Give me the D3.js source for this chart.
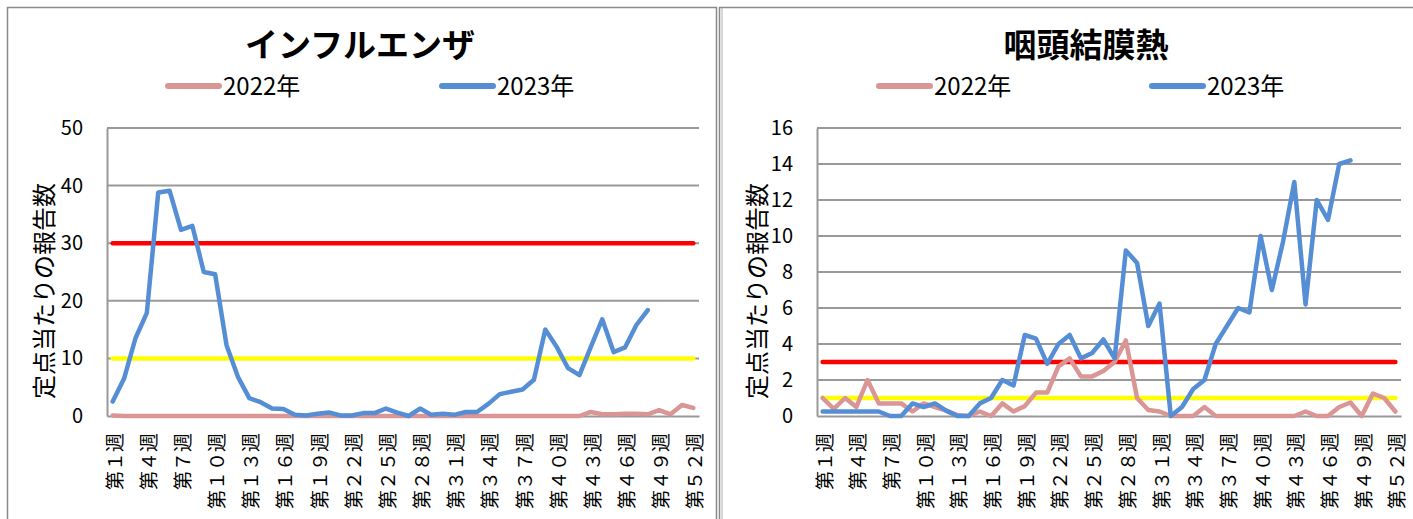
<!DOCTYPE html>
<html><head><meta charset="utf-8">
<script src="https://cdn.jsdelivr.net/npm/d3@7"></script>
<style>body{margin:0;background:#fff;overflow:hidden} svg{display:block}</style>
</head><body><svg id="c" width="1413" height="519"></svg>
<script>
// ---- data ----
const weeks = d3.range(1, 53);
const weekLabels = weeks.map(w => `第${w}週`);
const labeledWeeks = [1,4,7,10,13,16,19,22,25,28,31,34,37,40,43,46,49,52];
const seriesNames = ["2022年", "2023年"];

const flu2022 = [0.1,0,0,0,0,0,0,0,0,0, 0,0,0,0,0,0,0,0,0,0, 0,0,0,0,0,0,0,0,0,0, 0,0,0,0,0,0,0,0,0,0, 0,0,0.7,0.3,0.3,0.4,0.4,0.3,1.0,0.3, 1.9,1.4];
const flu2023 = [2.5,6.5,13.5,17.9,38.8,39.1,32.3,33.0,25.0,24.6, 12.3,6.8,3.1,2.4,1.3,1.2,0.2,0.1,0.4,0.6, 0.1,0.1,0.5,0.5,1.3,0.6,0.0,1.3,0.2,0.4, 0.2,0.7,0.7,2.1,3.8,4.2,4.6,6.3,15.0,12.0, 8.3,7.1,12.0,16.8,11.1,11.9,15.8,18.4];
const fluTicks = [0,10,20,30,40,50];
const fluAlarm = 30, fluWarning = 10;

const pcf2022 = [1.0,0.4,1.0,0.5,2.0,0.7,0.7,0.7,0.25,0.7, 0.5,0.3,0.05,0,0.25,0,0.7,0.25,0.55,1.3, 1.3,2.75,3.2,2.2,2.2,2.5,3.0,4.2,1.0,0.33, 0.25,0,0,0,0.5,0,0,0,0,0, 0,0,0,0.25,0,0,0.5,0.75,0,1.25, 1.0,0.25];
const pcf2023 = [0.25,0.25,0.25,0.25,0.25,0.25,0,0,0.7,0.5, 0.7,0.3,0,0,0.7,1.0,2.0,1.7,4.5,4.3, 2.9,4.0,4.5,3.2,3.5,4.25,3.2,9.2,8.5,5.0, 6.25,0,0.5,1.5,2.0,4.0,5.0,6.0,5.75,10.0, 7.0,9.7,13.0,6.2,12.0,10.9,14.0,14.2];
const pcfTicks = [0,2,4,6,8,10,12,14,16];
const pcfAlarm = 3, pcfWarning = 1;

// ---- drawing ----
const svg = d3.select("#c");
const C2022 = "#d99694", C2023 = "#558ed5";
const CJK = "'Noto Sans CJK JP', sans-serif";

// panel borders
svg.append("rect").attr("x",7.5).attr("y",7.5).attr("width",709).attr("height",560)
  .attr("fill","none").attr("stroke","#8a8a8a").attr("stroke-width",1.5);
svg.append("rect").attr("x",719.5).attr("y",7.5).attr("width",720).attr("height",560)
  .attr("fill","none").attr("stroke","#8a8a8a").attr("stroke-width",1.5);
svg.append("line").attr("x1",722).attr("x2",722).attr("y1",8).attr("y2",519)
  .attr("stroke","#b0b0b0").attr("stroke-width",1);

function chart(cfg){
  const g = svg.append("g");
  const x = d3.scalePoint().domain(weeks).range([cfg.left, cfg.right]).padding(0.5);
  const y = d3.scaleLinear().domain([0, d3.max(cfg.ticks)]).range([416, 128]);

  // gridlines
  g.append("g").selectAll("line").data(cfg.ticks.filter(t => t > 0)).join("line")
    .attr("x1", cfg.left).attr("x2", cfg.right)
    .attr("y1", d => y(d)).attr("y2", d => y(d))
    .attr("stroke","#999").attr("stroke-width",2);

  // axes
  const ya = g.append("g").attr("transform",`translate(${cfg.left},0)`)
    .call(d3.axisLeft(y).tickValues(cfg.ticks).tickSize(0).tickPadding(24));
  ya.select(".domain").attr("stroke","#999").attr("stroke-width",2);
  ya.selectAll("text").attr("font-family",CJK).attr("font-size",20).attr("fill","#000");

  const xa = g.append("g").attr("transform",`translate(0,416)`)
    .call(d3.axisBottom(x).tickValues(labeledWeeks).tickSize(0).tickFormat(w => weekLabels[w-1]));
  xa.select(".domain").attr("stroke","#999").attr("stroke-width",2);
  xa.selectAll("text")
    .attr("font-family",CJK).attr("font-size",19).attr("fill","#000")
    .style("font-variant-east-asian","full-width")
    .attr("text-anchor","end").attr("dominant-baseline","central")
    .attr("dy",null).attr("y",null)
    .attr("transform","translate(0,17) rotate(-90)");

  const line = d3.line().x((d,i) => x(weeks[i])).y(d => y(d));
  const flat = v => weeks.map(() => v);

  // threshold lines
  g.append("path").datum(flat(cfg.warn)).attr("d",line).attr("fill","none")
    .attr("stroke","#ffff00").attr("stroke-width",4.5).attr("stroke-linecap","round");
  g.append("path").datum(flat(cfg.alarm)).attr("d",line).attr("fill","none")
    .attr("stroke","#ff0000").attr("stroke-width",4.5).attr("stroke-linecap","round");

  // series
  [[cfg.s2022, C2022],[cfg.s2023, C2023]].forEach(([data,col]) => {
    g.append("path").datum(data).attr("d",line).attr("fill","none")
      .attr("stroke",col).attr("stroke-width",4.5)
      .attr("stroke-linejoin","round").attr("stroke-linecap","round");
  });

  // title
  g.append("text").attr("x",cfg.titleX).attr("y",57).attr("text-anchor","middle")
    .attr("font-family",CJK).attr("font-weight","bold").attr("font-size",33)
    .attr("fill","#000").text(cfg.title);

  // legend
  [[cfg.legX[0], C2022, seriesNames[0]],[cfg.legX[1], C2023, seriesNames[1]]].forEach(([lx,col,name]) => {
    g.append("line").attr("x1",lx).attr("x2",lx+51).attr("y1",86).attr("y2",86)
      .attr("stroke",col).attr("stroke-width",6).attr("stroke-linecap","round");
    g.append("text").attr("x",lx+55).attr("y",95)
      .attr("font-family","'Liberation Sans Narrow', "+CJK).attr("font-size",24)
      .attr("fill","#000").text(name);
  });

  // y label
  g.append("text").attr("transform",`translate(${cfg.ylabX},291) rotate(-90)`)
    .attr("text-anchor","middle").attr("dominant-baseline","central")
    .attr("font-family",CJK).attr("font-size",24).attr("fill","#000")
    .text("定点当たりの報告数");
}

chart({left:107, right:699, ticks:fluTicks, s2022:flu2022, s2023:flu2023,
  warn:fluWarning, alarm:fluAlarm, title:"インフルエンザ", titleX:360,
  legX:[168,442], ylabX:42});
chart({left:817, right:1401, ticks:pcfTicks, s2022:pcf2022, s2023:pcf2023,
  warn:pcfWarning, alarm:pcfAlarm, title:"咽頭結膜熱", titleX:1086,
  legX:[879,1152], ylabX:755});
</script></body></html>
